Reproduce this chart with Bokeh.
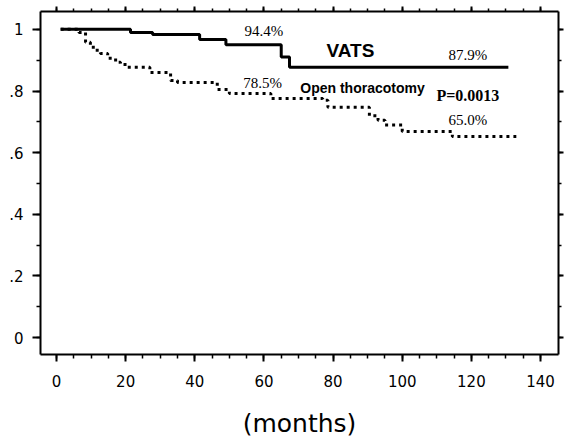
from bokeh.plotting import figure
from bokeh.models import Range1d, LinearAxis, FixedTicker, CustomJSTickFormatter
from bokeh.core.properties import value
from bokeh.embed import file_html
from bokeh.resources import INLINE

# VATS survival (step function)
months_vats = [1.2, 21.4, 27.8, 41.4, 49.0, 65.0, 67.4, 130.7]
surv_vats = [1.0, 0.99, 0.983, 0.967, 0.95, 0.91, 0.877, 0.877]

# Open thoracotomy survival (step function)
months_open = [1.2, 6.5, 8.4, 9.8, 11.3, 12.7, 14.8, 17.1, 18.5, 20.5, 27.0, 33.0, 35.0,
               46.5, 50.0, 62.0, 77.0, 78.5, 90.5, 93.0, 95.0, 100.0, 114.5, 133.0]
surv_open = [1.0, 0.99, 0.958, 0.942, 0.932, 0.922, 0.906, 0.893, 0.886, 0.877, 0.86, 0.834, 0.828,
             0.805, 0.792, 0.776, 0.770, 0.747, 0.72, 0.705, 0.69, 0.669, 0.652, 0.652]

# annotations
pct_text = ["94.4%", "87.9%", "78.5%", "65.0%"]
pct_x = [60.0, 119.0, 59.6, 119.0]
pct_y = [0.994, 0.916, 0.825, 0.705]

x_ticks = [0, 20, 40, 60, 80, 100, 120, 140]
x_minor = list(range(0, 145, 5))
y_ticks = [0, 0.2, 0.4, 0.6, 0.8, 1.0]
y_minor = [i / 10 for i in range(0, 11)]

p = figure(frame_width=518, frame_height=343,
           x_range=Range1d(-4.63, 145.2), y_range=Range1d(-0.055, 1.058),
           output_backend="svg", toolbar_location=None,
           min_border_left=40, min_border_top=11, min_border_right=6, min_border_bottom=10)
p.xgrid.visible = False
p.ygrid.visible = False
p.outline_line_color = None
p.background_fill_color = "white"
p.border_fill_color = "white"

fmt = CustomJSTickFormatter(code="""
if (Math.abs(tick) < 1e-9) return '0';
if (Math.abs(tick - 1) < 1e-9) return '1';
return tick.toFixed(1).replace(/^0/, '');
""")
blank = CustomJSTickFormatter(code="return '';")

def style(ax, major_out, minor_out):
    ax.axis_line_width = 2
    ax.axis_line_color = "black"
    ax.major_tick_line_width = 2
    ax.minor_tick_line_width = 1.5
    ax.major_tick_line_color = "black"
    ax.minor_tick_line_color = "black"
    ax.major_tick_in = 0
    ax.minor_tick_in = 0
    ax.major_tick_out = major_out
    ax.minor_tick_out = minor_out

xa = p.xaxis[0]
xa.ticker = FixedTicker(ticks=x_ticks, minor_ticks=x_minor)
style(xa, 7, 4)
xa.major_label_text_font = "DejaVu Sans"
xa.major_label_text_font_size = "15px"
xa.major_label_text_color = "black"
xa.major_label_standoff = 13
xa.axis_label = "(months)"
xa.axis_label_text_font = "DejaVu Sans"
xa.axis_label_text_font_size = "25px"
xa.axis_label_text_font_style = "normal"
xa.axis_label_text_color = "black"
xa.axis_label_standoff = 19

ya = p.yaxis[0]
ya.ticker = FixedTicker(ticks=y_ticks, minor_ticks=y_minor)
ya.formatter = fmt
style(ya, 8, 4)
ya.major_label_text_font = "DejaVu Sans"
ya.major_label_text_font_size = "15px"
ya.major_label_text_color = "black"
ya.major_label_standoff = 9

top = LinearAxis(ticker=FixedTicker(ticks=x_ticks, minor_ticks=x_minor), formatter=blank)
style(top, 5, 3)
top.major_label_standoff = 0
p.add_layout(top, "above")

right = LinearAxis(ticker=FixedTicker(ticks=y_ticks, minor_ticks=y_minor), formatter=blank)
style(right, 5, 3)
right.major_label_standoff = 0
p.add_layout(right, "right")

p.step(months_vats, surv_vats, mode="after", line_color="black", line_width=3)
p.step(months_open, surv_open, mode="after", line_color="black", line_width=3,
       line_dash="3 4")

p.text(x=pct_x, y=pct_y, text=pct_text, text_font=value("Liberation Serif"),
       text_font_size="15px", text_align="center", text_baseline="middle", text_color="black")
p.text(x=[85.0], y=[0.932], text=["VATS"], text_font=value("Liberation Sans"),
       text_font_size="19px", text_font_style="bold", text_align="center",
       text_baseline="middle", text_color="black")
p.text(x=[88.5], y=[0.81], text=["Open thoracotomy"], text_font=value("Liberation Sans"),
       text_font_size="14px", text_font_style="bold", text_align="center",
       text_baseline="middle", text_color="black")
p.text(x=[119.0], y=[0.786], text=["P=0.0013"], text_font=value("Liberation Serif"),
       text_font_size="16px", text_font_style="bold", text_align="center",
       text_baseline="middle", text_color="black")

open("out.html", "w").write(file_html(p, INLINE))
